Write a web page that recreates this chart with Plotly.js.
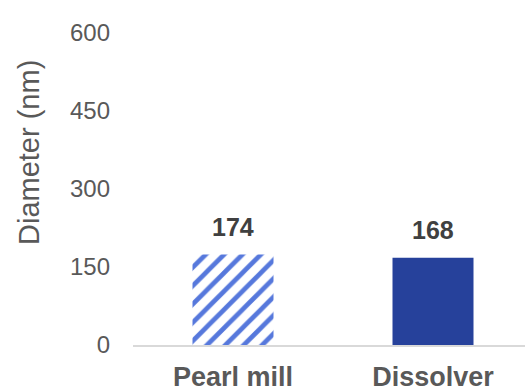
<!DOCTYPE html>
<html>
<head>
<meta charset="utf-8">
<script src="https://cdn.plot.ly/plotly-3.0.1.min.js"></script>
<style>html,body{margin:0;padding:0;background:#fff;}</style>
</head>
<body>
<div id="chart" style="width:525px;height:390px;"></div>
<script>
const categories = ["Pearl mill", "Dissolver"];
const diameters = [174, 168];
const valueLabels = ["174", "168"];
const yTicks = [0, 150, 300, 450, 600];
const yTitle = "Diameter (nm)";

const FONT = "Liberation Sans, Arial, Helvetica, sans-serif";

const hatched = {
  type: "bar",
  x: [categories[0]],
  y: [diameters[0]],
  width: 0.405,
  opacity: 1,
  marker: {
    color: "#ffffff",
    opacity: 1,
    line: {width: 0},
    pattern: {
      shape: "/",
      fgcolor: "#5678dc",
      fgopacity: 1,
      fillmode: "overlay",
      size: 13,
      solidity: 0.36
    }
  },
  hoverinfo: "none",
  showlegend: false
};

const solid = {
  type: "bar",
  x: [categories[1]],
  y: [diameters[1]],
  width: 0.405,
  opacity: 1,
  marker: {color: "#26419b", opacity: 1, line: {width: 0}},
  hoverinfo: "none",
  showlegend: false
};

const annotations = categories.map((c, i) => ({
  x: c, y: diameters[i], xref: "x", yref: "y",
  text: "<b>" + valueLabels[i] + "</b>",
  showarrow: false, yanchor: "bottom", yshift: 12,
  font: {family: FONT, size: 25, color: "#404040"}
}));
annotations.push({
  xref: "paper", yref: "paper", x: (29 - 133) / 392, y: (345 - 153) / 312,
  xanchor: "center", yanchor: "middle", textangle: -90,
  text: yTitle, showarrow: false,
  font: {family: FONT, size: 29, color: "#595959"}
});

const layout = {
  width: 525, height: 390,
  margin: {l: 133, r: 0, t: 33, b: 45, pad: 0},
  paper_bgcolor: "#ffffff", plot_bgcolor: "#ffffff",
  font: {family: FONT, color: "#595959"},
  barmode: "overlay",
  xaxis: {
    type: "category",
    categoryorder: "array", categoryarray: categories,
    range: [-0.5, 1.46],
    showline: true, linecolor: "#d9d9d9", linewidth: 1.5,
    showgrid: false, zeroline: false,
    ticks: "", ticklabelstandoff: 7,
    tickfont: {family: FONT, size: 27, color: "#595959", weight: "bold"},
    fixedrange: true
  },
  yaxis: {
    range: [0, 600],
    tickvals: yTicks, ticktext: yTicks.map(String),
    showline: false, showgrid: false, zeroline: false,
    ticks: "", ticklabelstandoff: 22,
    tickfont: {family: FONT, size: 24, color: "#595959"},
    fixedrange: true
  },
  annotations: annotations
};

Plotly.newPlot("chart", [hatched, solid], layout, {displayModeBar: false, staticPlot: true});
</script>
</body>
</html>
